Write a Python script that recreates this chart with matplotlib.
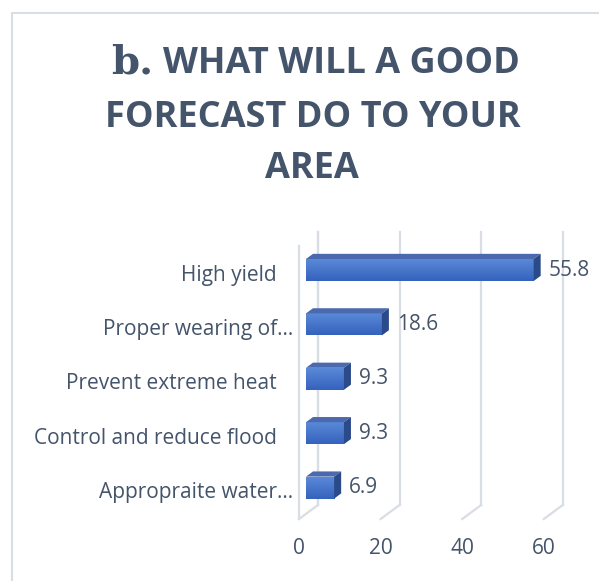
import numpy as np
import matplotlib
matplotlib.use("Agg")
import matplotlib.pyplot as plt
from matplotlib.patches import Polygon, Rectangle
from matplotlib.colors import LinearSegmentedColormap

# ---- data ----
categories = ["High yield", "Proper wearing of…", "Prevent extreme heat",
              "Control and reduce flood", "Appropraite water…"]
values = [55.8, 18.6, 9.3, 9.3, 6.9]
xticks = [0, 20, 40, 60]

TEXT = "#44546A"
GRID = "#D9DDE4"
W, H = 599, 581
fig = plt.figure(figsize=(W / 100, H / 100), dpi=100)
fig.patch.set_facecolor("white")

# chart frame
fig.patches.append(Rectangle((12 / W, -0.1), 1.2, 1 - 13 / H + 0.1,
                             transform=fig.transFigure, fill=False,
                             edgecolor=GRID, lw=1.5))

# plot area in pixel terms
px_per_unit = 4.08
cat_step = 54.4
x0_px, y0_px = 299, 270
ax_l, ax_r, ax_t, ax_b = 290, 590, 225, 525
ax = fig.add_axes([ax_l / W, 1 - ax_b / H, (ax_r - ax_l) / W, (ax_b - ax_t) / H])
ax.set_xlim((ax_l - x0_px) / px_per_unit, (ax_r - x0_px) / px_per_unit)
ax.set_ylim((ax_b - y0_px) / cat_step, (ax_t - y0_px) / cat_step)
for s in ax.spines.values():
    s.set_visible(False)
ax.set_yticks([])
ax.set_xticks(xticks)
ax.set_xticklabels([str(t) for t in xticks], fontsize=15, color=TEXT,
                   family="Open Sans")
ax.tick_params(axis="x", length=0, pad=9)
ax.patch.set_alpha(0)

# 3-D depth vector (full wall depth) in data units
dx = 19 / px_per_unit
dy = -14 / cat_step
floor_front = (519 - y0_px) / cat_step
wall_top_front = (246 - y0_px) / cat_step

# side wall
ax.plot([0, 0], [wall_top_front, floor_front], color=GRID, lw=1.6, clip_on=False)
ax.plot([dx, dx], [wall_top_front + dy, floor_front + dy], color=GRID, lw=1.6, clip_on=False)
# back wall gridlines and floor lines
for t in xticks:
    ax.plot([t + dx, t + dx], [wall_top_front + dy, floor_front + dy],
            color=GRID, lw=1.6, clip_on=False)
    ax.plot([t, t + dx], [floor_front, floor_front + dy],
            color=GRID, lw=1.6, clip_on=False)

# bars
pos = np.arange(len(categories))
f0, f1 = 0.368, 0.737
left = f0 * dx
bh = 22 / cat_step
ddx, ddy = (f1 - f0) * dx, (f1 - f0) * dy
grad = LinearSegmentedColormap.from_list("g", ["#5A89D8", "#3562BD"])
bars = ax.barh(pos, values, left=left, height=bh, color="#4472C4",
               edgecolor="none", zorder=3)
for b, p, v in zip(bars, pos, values):
    top = p - bh / 2
    bot = p + bh / 2
    img = ax.imshow(np.linspace(0, 1, 64).reshape(-1, 1), cmap=grad,
                    extent=[left, left + v, bot, top], aspect="auto",
                    zorder=3.1, interpolation="bilinear")
    img.set_clip_path(b)
    ax.add_patch(Polygon([(left, top), (left + v, top),
                          (left + v + ddx, top + ddy), (left + ddx, top + ddy)],
                         closed=True, facecolor="#4A69AE", edgecolor="none",
                         zorder=3.2))
    ax.add_patch(Polygon([(left + v, top), (left + v + ddx, top + ddy),
                          (left + v + ddx, bot + ddy), (left + v, bot)],
                         closed=True, facecolor="#2B4A8A", edgecolor="none",
                         zorder=3.2))
    ax.text(left + v + ddx + 8 / px_per_unit, p, f"{v:.1f}", ha="left",
            va="center", fontsize=15, color=TEXT, family="Open Sans",
            clip_on=False)

# category labels
for p, c in zip(pos, categories):
    xr = (293 if c.endswith("…") else 277) - x0_px
    ax.text(xr / px_per_unit, p + 5 / cat_step, c, ha="right", va="center",
            fontsize=15, color=TEXT, family="Open Sans", clip_on=False)

# title
tkw = dict(color=TEXT, fontweight="bold", va="baseline")
fig.text(163 / W, 1 - 73 / H, "WHAT WILL A GOOD", ha="left",
         family="Open Sans", fontsize=26, **tkw)
fig.text(153 / W, 1 - 73 / H, "b.", ha="right", family="DejaVu Serif",
         fontsize=29, **tkw)
fig.text(313 / W, 1 - 127 / H, "FORECAST DO TO YOUR", ha="center",
         family="Open Sans", fontsize=26, **tkw)
fig.text(312 / W, 1 - 178 / H, "AREA", ha="center", family="Open Sans",
         fontsize=26, **tkw)

fig.savefig("out.png", dpi=100)
